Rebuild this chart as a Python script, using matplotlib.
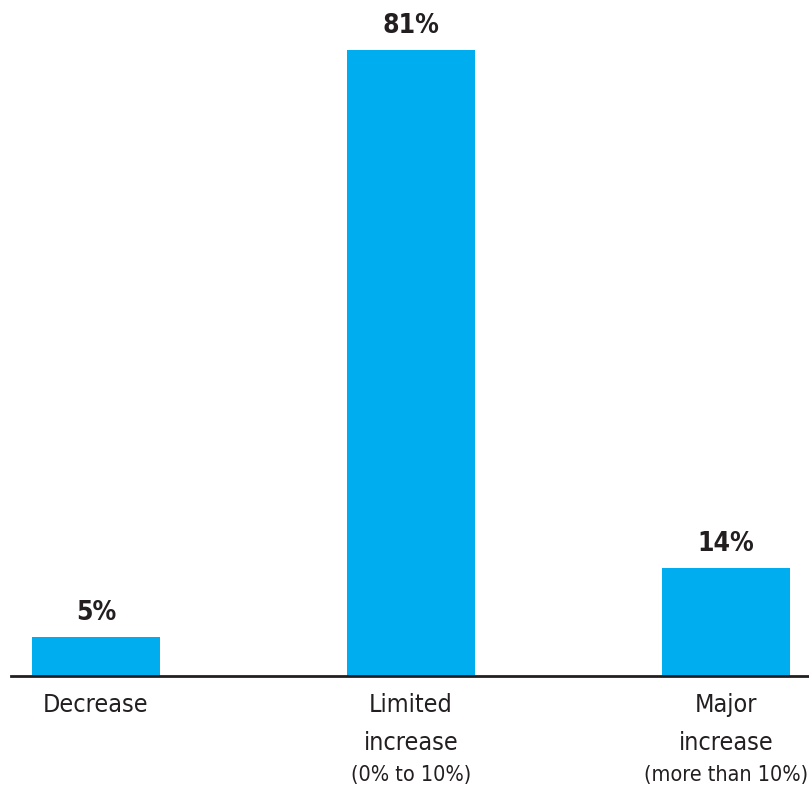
import matplotlib
matplotlib.use('Agg')
import matplotlib.pyplot as plt

categories = ['Decrease', 'Limited\nincrease', 'Major\nincrease']
sublabels = ['', '(0% to 10%)', '(more than 10%)']
values = [5, 81, 14]
value_labels = ['5%', '81%', '14%']

plt.rcParams['font.family'] = ['Liberation Sans Narrow', 'DejaVu Sans']
plt.rcParams['font.stretch'] = 'condensed'

BLUE = '#00AEEF'
DARK = '#231F20'

fig = plt.figure(figsize=(8.09, 7.87), dpi=100)
ax = fig.add_axes([11 / 809, 111 / 787, 798 / 809, 676 / 787])

x = list(range(len(categories)))
bars = ax.bar(x, values, width=0.406, color=BLUE, zorder=2)

for bar, lab in zip(bars, value_labels):
    ax.annotate(lab, (bar.get_x() + bar.get_width() / 2, bar.get_height()),
                xytext=(0, 8), textcoords='offset points', ha='center', va='bottom',
                fontsize=19, fontweight='bold', color=DARK)

ax.set_xlim(-0.27, 2.263)
ax.set_ylim(0, 87.5)
ax.set_xticks(x)
ax.set_xticklabels(categories, fontsize=18, color=DARK, linespacing=1.75)
ax.tick_params(axis='x', length=0, pad=12)
ax.set_yticks([])

for side in ['top', 'left', 'right']:
    ax.spines[side].set_visible(False)
ax.spines['bottom'].set_color(DARK)
ax.spines['bottom'].set_linewidth(2)
ax.spines['bottom'].set_zorder(3)

# small third line under the two-line labels
for xi, sub in zip(x, sublabels):
    if sub:
        ax.annotate(sub, (xi, 0), xytext=(0, -64), textcoords='offset points',
                    ha='center', va='top', fontsize=15.5, color=DARK)

fig.savefig('out.png', dpi=100)
